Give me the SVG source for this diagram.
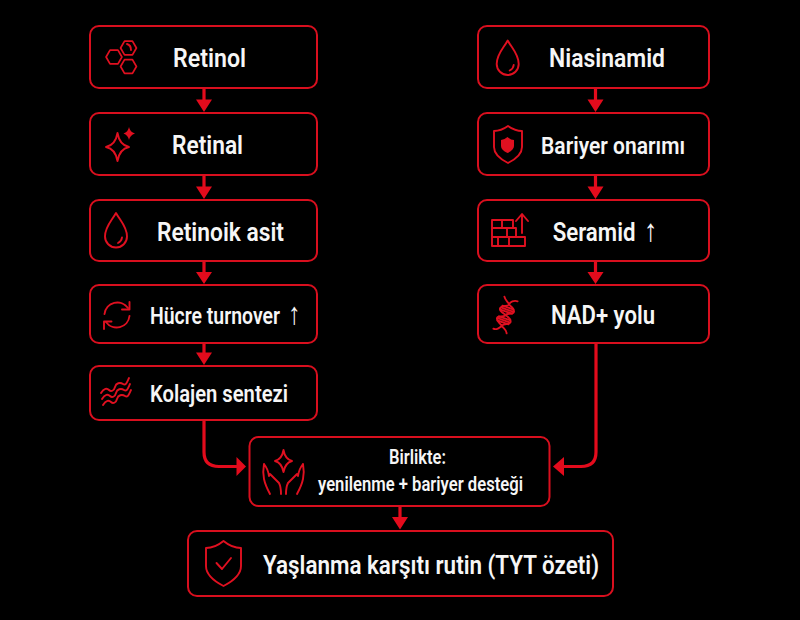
<svg xmlns="http://www.w3.org/2000/svg" width="800" height="620" viewBox="0 0 800 620">
<style>
.box{fill:#000;stroke:#d90f1e;stroke-width:2}
.ic{fill:none;stroke:#e01020;stroke-width:1.9;stroke-linecap:round;stroke-linejoin:round}
.fl{fill:#e01020;stroke:none}
.c{fill:none;stroke:#e30b1c;stroke-width:3.2}
.ah{fill:#e30b1c}
text{font-family:Roboto,"Liberation Sans",sans-serif;font-weight:600;fill:#f6f6f6;text-anchor:middle}
.l{text-anchor:start}
.ar{font-family:"Liberation Sans",sans-serif;font-weight:700;font-size:31px}
.t{font-size:26px}.m{font-size:24.500px}.s{font-size:20px}
</style>
<defs>
<path id="drop" d="M0-17.500C4-10 11-4 11 6A11 11 0 0 1-11 6C-11-4-4-10 0-17.500ZM6 7Q5.500 11 2 12.500"/>
<path id="hex" d="M-5.500-9.500H5.500L11 0 5.500 9.500H-5.500L-11 0Z"/>
<path id="wave" d="M0 0c3-5 6-5 8-3s5 1 6-3 5-5 8-3 4-2 6-6"/>
</defs>
<rect width="800" height="620" fill="#000"/>
<g id="connectors">
<path class="c" d="M204 88V101M204 175V188M204 261V273M204 343V353M595.500 88V101M595.500 175V188M595.500 261V273M400 506V518"/>
<path class="ah" d="M196 99.500H212L204 112ZM196 186.500H212L204 199ZM196 272H212L204 284ZM196 352.500H212L204 365ZM587.500 99.500H603.500L595.500 112ZM587.500 186.500H603.500L595.500 199ZM587.500 272H603.500L595.500 284ZM392 517H408L400 529.500Z"/>
<path class="c" d="M204 420V452Q204 466.500 219 466.500H238"/>
<path class="ah" d="M236.500 457L246 466.500 236.500 476Z"/>
<path class="c" d="M596 343V452Q596 466.500 581 466.500H562"/>
<path class="ah" d="M564 457L553 466.500 564 476Z"/>
</g>
<g id="retinol">
<rect class="box" x="90" y="26" width="227" height="62" rx="9"/>
<g class="ic"><use href="#hex" transform="translate(114 57) scale(.72)" stroke-width="2.400"/><use href="#hex" transform="translate(128.500 48) scale(.72)" stroke-width="2.400"/><use href="#hex" transform="translate(128.500 66.500) scale(.72)" stroke-width="2.400"/></g>
<path class="ic" stroke-width="1" d="M127 44Q131 45 131 50"/>
<text class="t" x="209.500" y="66.700" textLength="73" lengthAdjust="spacingAndGlyphs">Retinol</text>
</g>
<g id="retinal">
<rect class="box" x="90" y="113" width="227" height="62" rx="9"/>
<path class="ic" d="M117.500 133Q119.500 145 129 147Q119.500 149 117.500 161Q115.500 149 106 147Q115.500 145 117.500 133Z"/>
<path class="fl" d="M129 127Q130 132 135 133.500Q130 135 129 140Q128 135 123.500 133.500Q128 132 129 127Z"/>
<text class="t" x="207.500" y="154.300" textLength="71" lengthAdjust="spacingAndGlyphs">Retinal</text>
</g>
<g id="retinoik">
<rect class="box" x="90" y="200" width="227" height="61" rx="9"/>
<use class="ic" href="#drop" transform="translate(116 230.500)"/>
<text class="t" x="220.500" y="240.700" textLength="127" lengthAdjust="spacingAndGlyphs">Retinoik asit</text>
</g>
<g id="hucre">
<rect class="box" x="90" y="285" width="227" height="58" rx="9"/>
<path class="ic" d="M104.500 314A13 13 0 0 1 128 308M129.500 316A13 13 0 0 1 106 322"/>
<path class="ic" d="M129.500 302V309.500H122M104 329V321.500H111.500"/>
<text class="l" style="font-size:24px" transform="translate(150 324.300) scale(.81 1)">Hücre turnover <tspan class="ar" dx="4">↑</tspan></text>
</g>
<g id="kolajen">
<rect class="box" x="90" y="366" width="227" height="54" rx="9"/>
<g class="ic"><use href="#wave" x="101" y="393"/><use href="#wave" x="102" y="399"/><use href="#wave" x="103" y="405"/></g>
<text class="m" x="219" y="402.300" textLength="138" lengthAdjust="spacingAndGlyphs">Kolajen sentezi</text>
</g>
<g id="niasinamid">
<rect class="box" x="478" y="26" width="231" height="62" rx="9"/>
<use class="ic" href="#drop" transform="translate(507.700 58)"/>
<text class="t" x="607" y="66.700" textLength="116" lengthAdjust="spacingAndGlyphs">Niasinamid</text>
</g>
<g id="bariyer">
<rect class="box" x="478" y="113" width="231" height="62" rx="9"/>
<path class="ic" d="M508 126Q515 131 522 131V147Q522 156 508 163Q494 156 494 147V131Q501 131 508 126Z"/>
<path class="fl" d="M507.500 137Q511 140 514 140V146Q514 150 507.500 153Q501 150 501 146V140Q504 140 507.500 137Z"/>
<text class="m" x="613" y="154.300" textLength="144" lengthAdjust="spacingAndGlyphs">Bariyer onarımı</text>
</g>
<g id="seramid">
<rect class="box" x="478" y="200" width="231" height="61" rx="9"/>
<path class="ic" d="M492 220H513V228H516V237H525V246H492ZM492 228H513M492 237H516M502 220V228M507 228V237M498 237V246M509 237V246"/>
<path class="ic" d="M522 233V215M516 221L522 214 528 221"/>
<text class="l" style="font-size:25px" transform="translate(552.700 240.700) scale(.89 1)">Seramid <tspan class="ar" dx="3">↑</tspan></text>
</g>
<g id="nad">
<rect class="box" x="478" y="285" width="231" height="58" rx="9"/>
<path class="ic" stroke-width="1.600" d="M517.600 301.300C514 300 510 302 509.200 304.300C508 307 503 305 500.700 307.400C498 310 503 313 505.500 315C508 317 512 319 510.300 322.600C509 325 504 323 501.800 325.700C500 328 496 330 493.400 328.700M504.400 296.700C505 300 508 302 509.200 304.300C510.500 307 515 308 513.900 312C513 315 507 312.500 505.500 315C503.500 318 498 315 497 318C496 321 500 323 501.800 325.700C503 328 507 330 506.600 333.300"/>
<path class="ic" stroke-width="1.300" d="M502.500 305.700L513.500 309.500M501.500 307.700L513 311.700M501.200 309.900L512 313.700M499 316.300L509.800 320.100M497.700 318.200L509.500 322.400M497.500 320.500L508.500 324.300"/>
<text class="t" x="603" y="324.300" textLength="104" lengthAdjust="spacingAndGlyphs">NAD+ yolu</text>
</g>
<g id="birlikte">
<rect class="box" x="249.500" y="437" width="300" height="69" rx="9"/>
<path class="ic" d="M283.500 450Q285 459 292 461Q285 463 283.500 472Q282 463 275 461Q282 459 283.500 450Z"/>
<path class="ic" d="M264 464C262 475 264 483 270 494M264 464Q268 469 269 476L270 474L279 483Q281 487 281 494M303 464C305 475 303 483 297 494M303 464Q299 469 298 476L297 474L288 483Q286 487 286 494"/>
<text class="s" x="417.500" y="464.300" textLength="57" lengthAdjust="spacingAndGlyphs">Birlikte:</text>
<text class="s" x="420.500" y="490.700" textLength="205" lengthAdjust="spacingAndGlyphs">yenilenme + bariyer desteği</text>
</g>
<g id="rutin">
<rect class="box" x="188" y="531" width="425" height="65" rx="9"/>
<path class="ic" stroke-width="2" d="M223.500 541Q232 548 241 548V566Q241 577 223.500 586Q206 577 206 566V548Q215 548 223.500 541Z"/>
<path class="ic" stroke-width="2.200" d="M216.500 563L222 569 231 558"/>
<text class="t" x="431" y="574" textLength="336" lengthAdjust="spacingAndGlyphs">Yaşlanma karşıtı rutin (TYT özeti)</text>
</g>
</svg>
